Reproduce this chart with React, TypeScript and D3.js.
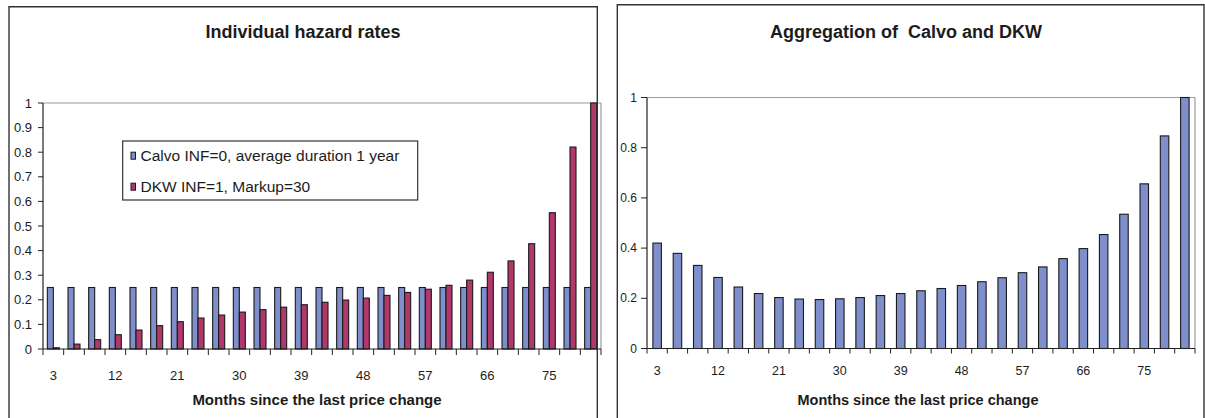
import React from "react";
import * as d3 from "d3";

const categories = [3, 6, 9, 12, 15, 18, 21, 24, 27, 30, 33, 36, 39, 42, 45, 48, 51, 54, 57, 60, 63, 66, 69, 72, 75, 78, 81];
const calvo = [0.25, 0.25, 0.25, 0.25, 0.25, 0.25, 0.25, 0.25, 0.25, 0.25, 0.25, 0.25, 0.25, 0.25, 0.25, 0.25, 0.25, 0.25, 0.25, 0.25, 0.25, 0.25, 0.25, 0.25, 0.25, 0.25, 0.25];
const dkw = [0.005, 0.02, 0.038, 0.058, 0.077, 0.095, 0.111, 0.126, 0.138, 0.15, 0.16, 0.17, 0.18, 0.19, 0.199, 0.207, 0.218, 0.23, 0.243, 0.259, 0.28, 0.312, 0.358, 0.428, 0.554, 0.821, 1.0];
const aggregate = [0.42, 0.379, 0.331, 0.283, 0.245, 0.219, 0.203, 0.197, 0.195, 0.198, 0.203, 0.211, 0.219, 0.23, 0.239, 0.251, 0.266, 0.282, 0.302, 0.325, 0.358, 0.398, 0.454, 0.535, 0.656, 0.847, 1.0];
const xTickLabels = [3, 12, 21, 30, 39, 48, 57, 66, 75];
const leftYTicks = [0, 0.1, 0.2, 0.3, 0.4, 0.5, 0.6, 0.7, 0.8, 0.9, 1];
const rightYTicks = [0, 0.2, 0.4, 0.6, 0.8, 1];
const legendLabels = ["Calvo INF=0, average duration 1 year", "DKW INF=1, Markup=30"];
const leftTitle = "Individual hazard rates";
const rightTitle = "Aggregation of  Calvo and DKW";
const xTitle = "Months since the last price change";

const BLUE = "#7f8fcb";
const RED = "#b0386b";
const FONT = "'Liberation Sans', Arial, sans-serif";
const TXT = "#1c1c1c";

function fmt(v: number) {
  return v === 0 ? "0" : v === 1 ? "1" : String(v);
}

export default function App() {
  // Left chart scales
  const xL = d3.scaleBand<number>().domain(categories).range([43, 601]).padding(0);
  const yL = d3.scaleLinear().domain([0, 1]).range([349, 103]);
  const sub = d3.scaleBand<string>().domain(["calvo", "dkw"]).range([-6, 6]).padding(0);

  // Right chart scales
  const xR = d3.scaleBand<number>().domain(categories).range([647, 1195]).padding(0);
  const yR = d3.scaleLinear().domain([0, 1]).range([348.5, 97.5]);
  const barW = 8.5;

  const boundariesL = categories.map((c) => xL(c)!).concat([xL.range()[1]]);
  const boundariesR = categories.map((c) => xR(c)!).concat([xR.range()[1]]);

  return (
    <svg
      width={1205}
      height={418}
      style={{ position: "absolute", left: 0, top: 0, background: "#fff" }}
      fontFamily={FONT}
    >
      <rect x={0} y={0} width={1205} height={418} fill="#fff" />

      {/* ===== Left chart ===== */}
      <text x={303} y={37.7} textAnchor="middle" fontSize={18} fontWeight="bold" fill={TXT}>
        {leftTitle}
      </text>
      {/* plot area border (top/right) */}
      <line x1={43} x2={601} y1={yL(1)} y2={yL(1)} stroke="#9a9a9a" strokeWidth={1.2} />
      <line x1={601} x2={601} y1={yL(1)} y2={yL(0)} stroke="#9a9a9a" strokeWidth={1.2} />
      {/* bars */}
      {categories.map((c, i) => {
        const cx = xL(c)! + xL.bandwidth() / 2;
        return (
          <g key={"l" + c}>
            <rect
              x={cx + sub("calvo")!}
              y={yL(calvo[i])}
              width={sub.bandwidth()}
              height={yL(0) - yL(calvo[i])}
              fill={BLUE}
              stroke="#1a1a1a"
              strokeWidth={1.1}
            />
            <rect
              x={cx + sub("dkw")!}
              y={yL(dkw[i])}
              width={sub.bandwidth()}
              height={yL(0) - yL(dkw[i])}
              fill={RED}
              stroke="#1a1a1a"
              strokeWidth={1.1}
            />
          </g>
        );
      })}
      {/* axes */}
      <line x1={43} x2={43} y1={yL(1)} y2={yL(0)} stroke="#222" strokeWidth={1.2} />
      <line x1={43} x2={601} y1={yL(0)} y2={yL(0)} stroke="#222" strokeWidth={1.2} />
      {leftYTicks.map((t) => (
        <g key={"ly" + t}>
          <line x1={38} x2={43} y1={yL(t)} y2={yL(t)} stroke="#222" strokeWidth={1} />
          <text x={32} y={yL(t) + 4.5} textAnchor="end" fontSize={13} fill={TXT}>
            {fmt(t)}
          </text>
        </g>
      ))}
      {boundariesL.map((b, i) => (
        <line key={"lt" + i} x1={b} x2={b} y1={yL(0)} y2={yL(0) + 6} stroke="#222" strokeWidth={1} />
      ))}
      {xTickLabels.map((c) => (
        <text key={"lx" + c} x={xL(c)! + xL.bandwidth() / 2} y={380} textAnchor="middle" fontSize={13} fill={TXT}>
          {c}
        </text>
      ))}
      <text x={317} y={405} textAnchor="middle" fontSize={15} fontWeight="bold" fill={TXT}>
        {xTitle}
      </text>
      {/* legend */}
      <rect x={122.7} y={141} width={295} height={59} fill="#fff" stroke="#333" strokeWidth={1.2} />
      {legendLabels.map((lab, i) => {
        const cy = i === 0 ? 155.7 : 186.7;
        return (
          <g key={"lg" + i}>
            <rect x={131} y={cy - 3.5} width={4.5} height={7} fill={i === 0 ? BLUE : RED} stroke="#1a1a1a" strokeWidth={1} />
            <text x={140.5} y={cy + 5.5} fontSize={15.5} fill={TXT}>
              {lab}
            </text>
          </g>
        );
      })}
      {/* frame */}
      <path d="M9,425 L9,6.7 L597.3,6.7 L597.3,425" fill="none" stroke="#333" strokeWidth={1.4} />

      {/* ===== Right chart ===== */}
      <text
        x={906}
        y={37.7}
        textAnchor="middle"
        fontSize={18}
        fontWeight="bold"
        fill={TXT}
        style={{ whiteSpace: "pre" }}
        xmlSpace="preserve"
      >
        {rightTitle}
      </text>
      <line x1={647} x2={1195} y1={yR(1)} y2={yR(1)} stroke="#9a9a9a" strokeWidth={1.2} />
      <line x1={1195} x2={1195} y1={yR(1)} y2={yR(0)} stroke="#9a9a9a" strokeWidth={1.2} />
      {categories.map((c, i) => {
        const cx = xR(c)! + xR.bandwidth() / 2;
        return (
          <rect
            key={"r" + c}
            x={cx - barW / 2}
            y={yR(aggregate[i])}
            width={barW}
            height={yR(0) - yR(aggregate[i])}
            fill={BLUE}
            stroke="#1a1a1a"
            strokeWidth={1.1}
          />
        );
      })}
      <line x1={647} x2={647} y1={yR(1)} y2={yR(0)} stroke="#222" strokeWidth={1.2} />
      <line x1={647} x2={1195} y1={yR(0)} y2={yR(0)} stroke="#222" strokeWidth={1.2} />
      {rightYTicks.map((t) => (
        <g key={"ry" + t}>
          <line x1={641} x2={647} y1={yR(t)} y2={yR(t)} stroke="#222" strokeWidth={1} />
          <text x={637} y={yR(t) + 4} textAnchor="end" fontSize={12} fill={TXT}>
            {fmt(t)}
          </text>
        </g>
      ))}
      {boundariesR.map((b, i) => (
        <line key={"rt" + i} x1={b} x2={b} y1={yR(0)} y2={yR(0) + 5} stroke="#222" strokeWidth={1} />
      ))}
      {xTickLabels.map((c) => (
        <text key={"rx" + c} x={xR(c)! + xR.bandwidth() / 2} y={375} textAnchor="middle" fontSize={12.5} fill={TXT}>
          {c}
        </text>
      ))}
      <text x={918} y={404.5} textAnchor="middle" fontSize={14.5} fontWeight="bold" fill={TXT}>
        {xTitle}
      </text>
      <path d="M617.3,425 L617.3,4.7 L1204,4.7 L1204,425" fill="none" stroke="#333" strokeWidth={1.4} />
    </svg>
  );
}
